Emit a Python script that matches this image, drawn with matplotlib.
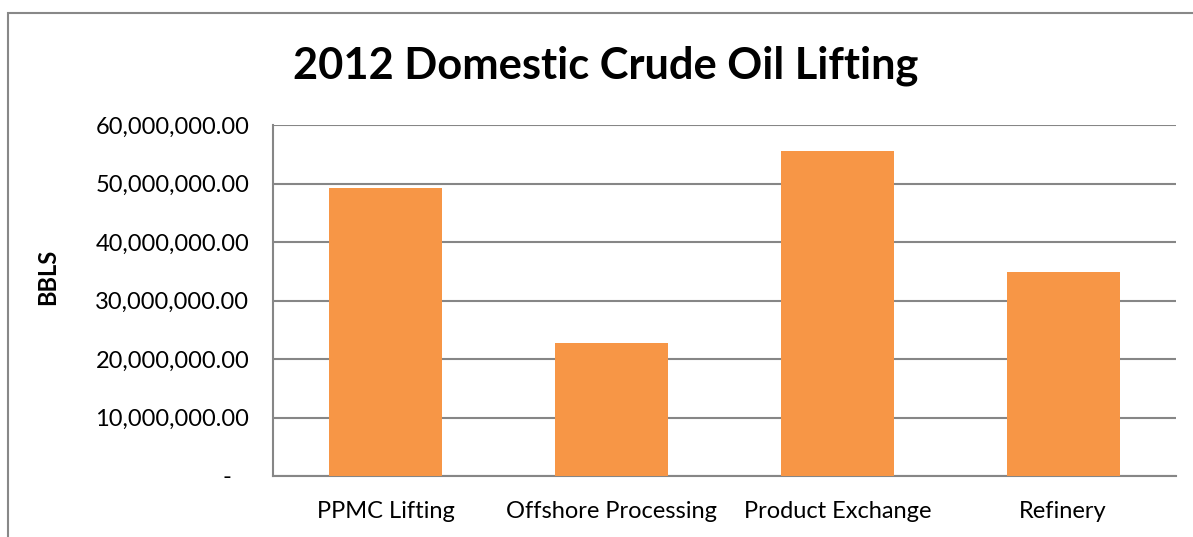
import matplotlib
matplotlib.use("Agg")
import matplotlib.pyplot as plt
from matplotlib.patches import Rectangle
from matplotlib.ticker import FixedLocator, FixedFormatter

categories = ["PPMC Lifting", "Offshore Processing", "Product Exchange", "Refinery"]
values = [49_200_000, 22_700_000, 55_600_000, 34_900_000]
yticks = [0, 10_000_000, 20_000_000, 30_000_000, 40_000_000, 50_000_000, 60_000_000]
ytick_labels = ["-   ", "10,000,000.00", "20,000,000.00", "30,000,000.00",
                "40,000,000.00", "50,000,000.00", "60,000,000.00"]
title = "2012 Domestic Crude Oil Lifting"
ylabel = "BBLS"

plt.rcParams['font.family'] = ['Lato', 'DejaVu Sans']

W, H = 1193, 537
fig = plt.figure(figsize=(W / 100, H / 100), dpi=100)

# outer chart border (cropped on right and bottom)
fig.patches.append(Rectangle((8 / W, -0.1), 1.2, (1 - 13 / H) + 0.1,
                             transform=fig.transFigure, fill=False,
                             edgecolor="#888888", linewidth=1.5))

ax = fig.add_axes([273 / W, 1 - 476 / H, (1176 - 273) / W, (476 - 125) / H])
x = list(range(len(categories)))
ax.bar(x, values, width=0.5, color="#F79646", zorder=3)
ax.set_xlim(-0.5, len(categories) - 0.5)
ax.set_ylim(0, 60_000_000)

ax.yaxis.set_major_locator(FixedLocator(yticks))
ax.yaxis.set_major_formatter(FixedFormatter(ytick_labels))
ax.set_xticks(x)
ax.set_xticklabels(categories)
ax.tick_params(axis="y", length=0, pad=17, labelsize=17)
ax.tick_params(axis="x", length=0, pad=18, labelsize=17)

ax.grid(axis="y", color="#868686", linewidth=1.5, zorder=0)
for s in ["top", "right"]:
    ax.spines[s].set_visible(False)
for s in ["left", "bottom"]:
    ax.spines[s].set_color("#868686")
    ax.spines[s].set_linewidth(1.5)

ax.set_ylabel(ylabel, fontsize=17, fontweight="bold")
ax.yaxis.set_label_coords(-214 / (1176 - 273), (476 - 277) / (476 - 125))

fig.text(606 / W, 1 - 66 / H, title, ha="center", va="center",
         fontsize=31.2, fontweight="bold")

fig.savefig("out.png", dpi=100)
